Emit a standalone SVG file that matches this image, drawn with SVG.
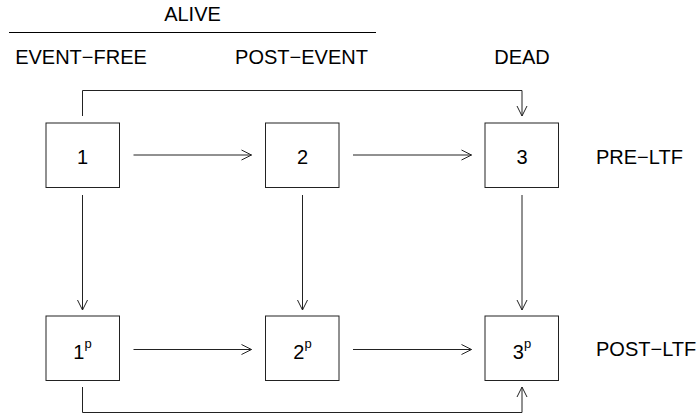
<svg xmlns="http://www.w3.org/2000/svg" width="698" height="420" viewBox="0 0 698 420">
<style>
text{font-family:"Liberation Sans",Arial,sans-serif;font-size:20px;fill:#000}
.box{fill:#fff;stroke:#222;stroke-width:1}
.c{fill:none;stroke:#222;stroke-width:1}
.m{text-anchor:middle}
.sup{font-size:13px}
</style>
<defs>
<marker id="ah" viewBox="-11 -6 12 12" refX="0" refY="0" markerWidth="12" markerHeight="12" markerUnits="userSpaceOnUse" orient="auto">
<path d="M-10,-5 L0,0 L-10,5" fill="none" stroke="#222" stroke-width="1"/>
</marker>
</defs>
<rect width="698" height="420" fill="#fff"/>
<g id="headers">
<text class="m" x="192.5" y="20.5">ALIVE</text>
<line x1="9" y1="32.5" x2="376" y2="32.5" stroke="#000" stroke-width="1"/>
<text class="m" x="81" y="64">EVENT−FREE</text>
<text class="m" x="301.5" y="64">POST−EVENT</text>
<text class="m" x="522" y="64">DEAD</text>
<text x="596" y="163.5">PRE−LTF</text>
<text x="596" y="355.5">POST−LTF</text>
</g>
<g id="connectors">
<path class="c" d="M82.5,116 V90.5 H522 V116" marker-end="url(#ah)"/>
<line class="c" x1="133.5" y1="155" x2="251.5" y2="155" marker-end="url(#ah)"/>
<line class="c" x1="353" y1="155" x2="471.5" y2="155" marker-end="url(#ah)"/>
<line class="c" x1="82.5" y1="195" x2="82.5" y2="310" marker-end="url(#ah)"/>
<line class="c" x1="302.5" y1="195" x2="302.5" y2="310" marker-end="url(#ah)"/>
<line class="c" x1="522" y1="195" x2="522" y2="310" marker-end="url(#ah)"/>
<line class="c" x1="133.5" y1="349.5" x2="251.5" y2="349.5" marker-end="url(#ah)"/>
<line class="c" x1="353" y1="349.5" x2="471.5" y2="349.5" marker-end="url(#ah)"/>
<path class="c" d="M82.5,387 V412.5 H522 V387" marker-end="url(#ah)"/>
</g>
<g id="n1"><rect class="box" x="46" y="123" width="73.5" height="64.5"/><text class="m" x="82.5" y="163.5">1</text></g>
<g id="n2"><rect class="box" x="265.5" y="123" width="73.5" height="64.5"/><text class="m" x="302.5" y="163.5">2</text></g>
<g id="n3"><rect class="box" x="485" y="123" width="73.5" height="64.5"/><text class="m" x="522" y="163.5">3</text></g>
<g id="n1p"><rect class="box" x="46" y="316" width="73.5" height="64.5"/><text class="m" x="82.5" y="359">1<tspan class="sup" dy="-11">p</tspan></text></g>
<g id="n2p"><rect class="box" x="265.5" y="316" width="73.5" height="64.5"/><text class="m" x="302.5" y="359">2<tspan class="sup" dy="-11">p</tspan></text></g>
<g id="n3p"><rect class="box" x="485" y="316" width="73.5" height="64.5"/><text class="m" x="522" y="359">3<tspan class="sup" dy="-11">p</tspan></text></g>
</svg>
